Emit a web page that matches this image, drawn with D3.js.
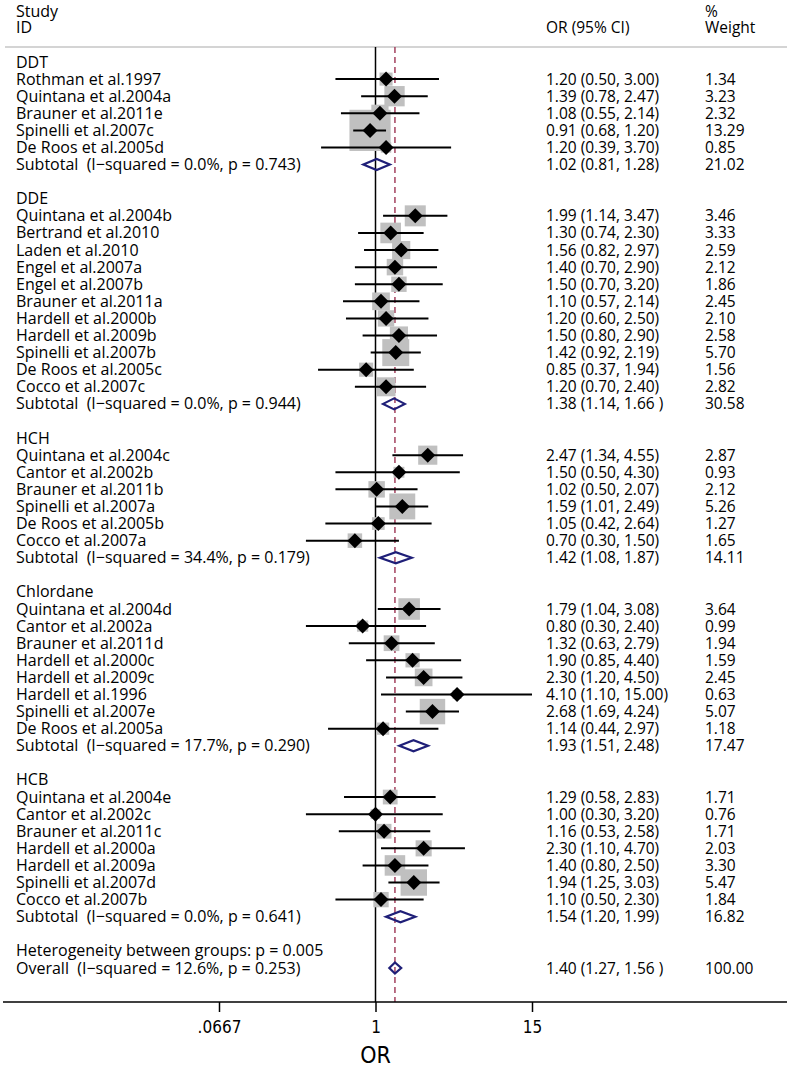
<!DOCTYPE html>
<html>
<head>
<meta charset="utf-8">
<script src="https://cdn.jsdelivr.net/npm/d3@7"></script>
<style>
  body { margin: 0; background: #fff; }
  text { font-family: "Open Sans", "DejaVu Sans", sans-serif; fill: #000; white-space: pre; }
</style>
</head>
<body>
<div id="chart"></div>
<script>
// groups and their studies
const groups = ["DDT", "DDE", "HCH", "Chlordane", "HCB"];

const studyGroup = [0,0,0,0,0, 1,1,1,1,1,1,1,1,1,1,1, 2,2,2,2,2,2, 3,3,3,3,3,3,3,3, 4,4,4,4,4,4,4];
const studyNames = [
  "Rothman et al.1997", "Quintana et al.2004a", "Brauner et al.2011e", "Spinelli et al.2007c", "De Roos et al.2005d",
  "Quintana et al.2004b", "Bertrand et al.2010", "Laden et al.2010", "Engel et al.2007a", "Engel et al.2007b",
  "Brauner et al.2011a", "Hardell et al.2000b", "Hardell et al.2009b", "Spinelli et al.2007b", "De Roos et al.2005c", "Cocco et al.2007c",
  "Quintana et al.2004c", "Cantor et al.2002b", "Brauner et al.2011b", "Spinelli et al.2007a", "De Roos et al.2005b", "Cocco et al.2007a",
  "Quintana et al.2004d", "Cantor et al.2002a", "Brauner et al.2011d", "Hardell et al.2000c", "Hardell et al.2009c", "Hardell et al.1996",
  "Spinelli et al.2007e", "De Roos et al.2005a",
  "Quintana et al.2004e", "Cantor et al.2002c", "Brauner et al.2011c", "Hardell et al.2000a", "Hardell et al.2009a", "Spinelli et al.2007d", "Cocco et al.2007b"
];
const studyOR = [1.20, 1.39, 1.08, 0.91, 1.20,
  1.99, 1.30, 1.56, 1.40, 1.50, 1.10, 1.20, 1.50, 1.42, 0.85, 1.20,
  2.47, 1.50, 1.02, 1.59, 1.05, 0.70,
  1.79, 0.80, 1.32, 1.90, 2.30, 4.10, 2.68, 1.14,
  1.29, 1.00, 1.16, 2.30, 1.40, 1.94, 1.10];
const studyLo = [0.50, 0.78, 0.55, 0.68, 0.39,
  1.14, 0.74, 0.82, 0.70, 0.70, 0.57, 0.60, 0.80, 0.92, 0.37, 0.70,
  1.34, 0.50, 0.50, 1.01, 0.42, 0.30,
  1.04, 0.30, 0.63, 0.85, 1.20, 1.10, 1.69, 0.44,
  0.58, 0.30, 0.53, 1.10, 0.80, 1.25, 0.50];
const studyHi = [3.00, 2.47, 2.14, 1.20, 3.70,
  3.47, 2.30, 2.97, 2.90, 3.20, 2.14, 2.50, 2.90, 2.19, 1.94, 2.40,
  4.55, 4.30, 2.07, 2.49, 2.64, 1.50,
  3.08, 2.40, 2.79, 4.40, 4.50, 15.00, 4.24, 2.97,
  2.83, 3.20, 2.58, 4.70, 2.50, 3.03, 2.30];
const studyWeight = [1.34, 3.23, 2.32, 13.29, 0.85,
  3.46, 3.33, 2.59, 2.12, 1.86, 2.45, 2.10, 2.58, 5.70, 1.56, 2.82,
  2.87, 0.93, 2.12, 5.26, 1.27, 1.65,
  3.64, 0.99, 1.94, 1.59, 2.45, 0.63, 5.07, 1.18,
  1.71, 0.76, 1.71, 2.03, 3.30, 5.47, 1.84];

// subtotals per group
const subLabel = [
  "Subtotal  (I\u2212squared = 0.0%, p = 0.743)",
  "Subtotal  (I\u2212squared = 0.0%, p = 0.944)",
  "Subtotal  (I\u2212squared = 34.4%, p = 0.179)",
  "Subtotal  (I\u2212squared = 17.7%, p = 0.290)",
  "Subtotal  (I\u2212squared = 0.0%, p = 0.641)"
];
const subOR = [1.02, 1.38, 1.42, 1.93, 1.54];
const subLo = [0.81, 1.14, 1.08, 1.51, 1.20];
const subHi = [1.28, 1.66, 1.87, 2.48, 1.99];
const subText = ["1.02 (0.81, 1.28)", "1.38 (1.14, 1.66 )", "1.42 (1.08, 1.87)", "1.93 (1.51, 2.48)", "1.54 (1.20, 1.99)"];
const subWeight = ["21.02", "30.58", "14.11", "17.47", "16.82"];

// overall
const hetLabel = "Heterogeneity between groups: p = 0.005";
const overallLabel = "Overall  (I\u2212squared = 12.6%, p = 0.253)";
const overall = {or: 1.40, lo: 1.27, hi: 1.56, text: "1.40 (1.27, 1.56 )", weight: "100.00"};

const xTicks = [1/15, 1, 15];
const xTickLabels = [".0667", "1", "15"];

const width = 787, height = 1069;
const labelSize = "16px", numSize = "15.5px";

// build row list
let rows = [];
groups.forEach((g, gi) => {
  rows.push({type: "group", label: g});
  studyNames.forEach((n, i) => {
    if (studyGroup[i] !== gi) return;
    rows.push({type: "study", label: n, or: studyOR[i], lo: studyLo[i], hi: studyHi[i], w: studyWeight[i]});
  });
  rows.push({type: "sub", label: subLabel[gi], or: subOR[gi], lo: subLo[gi], hi: subHi[gi], text: subText[gi], wt: subWeight[gi]});
  rows.push({type: "blank"});
});
rows.push({type: "het", label: hetLabel});
rows.push({type: "sub", label: overallLabel, or: overall.or, lo: overall.lo, hi: overall.hi, text: overall.text, wt: overall.weight, overall: true});
rows.forEach((r, i) => r.idx = i);

const svg = d3.select("#chart").append("svg")
  .attr("width", width).attr("height", height);

const x = d3.scaleLog().domain([1/15, 15]).range([219, 532]);
const y = d3.scaleLinear().domain([0, rows.length - 1]).range([62, 968]);
const axisY = 1002, topY = 47;
const fmt = d3.format(".2f");

// header
svg.append("line").attr("x1", 5).attr("x2", width).attr("y1", topY).attr("y2", topY)
  .attr("stroke", "#d4d4d4").attr("stroke-width", 2);
const head = svg.append("g").style("font-size", labelSize);
head.append("text").attr("x", 16).attr("y", 17).text("Study");
head.append("text").attr("x", 16).attr("y", 33).text("ID");
const headNum = svg.append("g").style("font-size", numSize);
headNum.append("text").attr("x", 546).attr("y", 33).text("OR (95% CI)");
headNum.append("text").attr("x", 705).attr("y", 17).text("%");
headNum.append("text").attr("x", 705).attr("y", 33).text("Weight");

// reference lines
svg.append("line").attr("x1", x(1)).attr("x2", x(1)).attr("y1", topY).attr("y2", axisY)
  .attr("stroke", "#000").attr("stroke-width", 1.5);
svg.append("line").attr("x1", x(overall.or)).attr("x2", x(overall.or)).attr("y1", topY).attr("y2", axisY)
  .attr("stroke", "#a3415e").attr("stroke-width", 1.5).attr("stroke-dasharray", "6,4");

const studies = rows.filter(r => r.type === "study");
const subs = rows.filter(r => r.type === "sub");

// weight boxes
svg.append("g").selectAll("rect").data(studies).join("rect")
  .attr("x", d => x(d.or) - 11.3 * Math.sqrt(d.w) / 2)
  .attr("y", d => y(d.idx) - 11.3 * Math.sqrt(d.w) / 2)
  .attr("width", d => 11.3 * Math.sqrt(d.w))
  .attr("height", d => 11.3 * Math.sqrt(d.w))
  .attr("fill", "#c0c0c0");

// CI lines
svg.append("g").selectAll("line").data(studies).join("line")
  .attr("x1", d => x(d.lo)).attr("x2", d => x(d.hi))
  .attr("y1", d => y(d.idx)).attr("y2", d => y(d.idx))
  .attr("stroke", "#000").attr("stroke-width", 2);

// point diamonds
svg.append("g").selectAll("path").data(studies).join("path")
  .attr("d", d => {
    const cx = x(d.or), cy = y(d.idx), s = 7.5;
    return `M${cx - s},${cy}L${cx},${cy - s}L${cx + s},${cy}L${cx},${cy + s}Z`;
  })
  .attr("fill", "#000");

// subtotal diamonds
svg.append("g").selectAll("path").data(subs).join("path")
  .attr("d", d => {
    const cy = y(d.idx), h = 5.5;
    return `M${x(d.lo)},${cy}L${x(d.or)},${cy - h}L${x(d.hi)},${cy}L${x(d.or)},${cy + h}Z`;
  })
  .attr("fill", "none").attr("stroke", "#1f1f78").attr("stroke-width", 2.2);

// text columns
const labelled = rows.filter(r => r.type !== "blank");
svg.append("g").style("font-size", labelSize).selectAll("text").data(labelled).join("text")
  .attr("x", 16).attr("y", d => y(d.idx) + 5.5)
  .text(d => d.label);

const withCI = rows.filter(r => r.type === "study" || r.type === "sub");
svg.append("g").style("font-size", numSize).selectAll("text").data(withCI).join("text")
  .attr("x", 546).attr("y", d => y(d.idx) + 5.5)
  .text(d => d.type === "sub" ? d.text : `${fmt(d.or)} (${fmt(d.lo)}, ${fmt(d.hi)})`);
svg.append("g").style("font-size", numSize).selectAll("text").data(withCI).join("text")
  .attr("x", 705).attr("y", d => y(d.idx) + 5.5)
  .text(d => d.type === "sub" ? d.wt : fmt(d.w));

// x axis
svg.append("line").attr("x1", 3).attr("x2", width).attr("y1", axisY).attr("y2", axisY)
  .attr("stroke", "#000").attr("stroke-width", 1.5);
const axis = svg.append("g").attr("transform", `translate(0,${axisY})`)
  .call(d3.axisBottom(x).tickValues(xTicks).tickFormat((d, i) => xTickLabels[i]).tickSize(10).tickPadding(9));
axis.select(".domain").remove();
axis.selectAll(".tick line").attr("stroke-width", 1.5);
axis.selectAll(".tick text")
  .style("font-family", "'Liberation Sans Narrow', 'DejaVu Sans Condensed', sans-serif")
  .style("font-size", "17px");

svg.append("text").attr("x", x(1)).attr("y", 1063)
  .attr("text-anchor", "middle")
  .style("font-family", "'Liberation Sans Narrow', 'DejaVu Sans Condensed', sans-serif")
  .style("font-size", "23px").text("OR");
</script>
</body>
</html>
